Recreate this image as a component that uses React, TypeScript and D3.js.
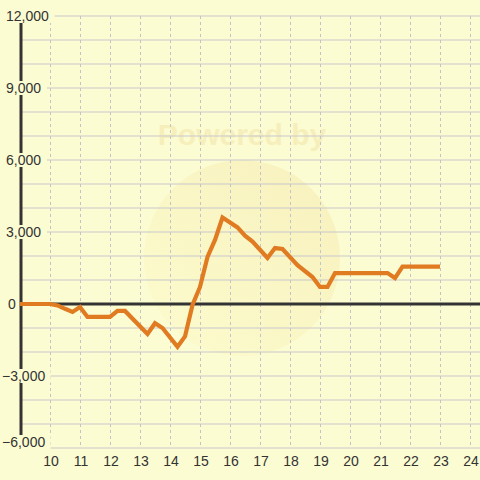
import React from "react";
import * as d3 from "d3";

const xValues = [9.0, 10.0, 10.25, 10.5, 10.75, 11.0, 11.25, 12.0, 12.25, 12.5, 13.25, 13.5, 13.75, 14.25, 14.5, 14.75, 15.0, 15.25, 15.5, 15.75, 16.25, 16.5, 16.75, 17.25, 17.5, 17.75, 18.25, 18.75, 19.0, 19.25, 19.5, 21.25, 21.5, 21.75, 23.0];
const yValues = [0, 0, -60, -200, -330, -125, -540, -540, -290, -290, -1250, -800, -1000, -1780, -1350, -40, 710, 1960, 2670, 3600, 3190, 2850, 2600, 1920, 2330, 2290, 1620, 1125, 710, 710, 1290, 1290, 1080, 1560, 1560];
const xTicks = [10, 11, 12, 13, 14, 15, 16, 17, 18, 19, 20, 21, 22, 23, 24];
const yGrid = [-6000, -5000, -4000, -3000, -2000, -1000, 0, 1000, 2000, 3000, 4000, 5000, 6000, 7000, 8000, 9000, 10000, 11000, 12000];
const yLabels = [-6000, -3000, 0, 3000, 6000, 9000, 12000];

const W = 480;
const H = 480;
const BG = "#fcfcd2";

export default function App() {
  const x = d3.scaleLinear().domain([9, 24]).range([20, 470]);
  const y = d3.scaleLinear().domain([-6000, 12000]).range([448, 16]);
  const pts: [number, number][] = xValues.map((v, i) => [v, yValues[i]]);
  const line = d3
    .line<[number, number]>()
    .x((d) => x(d[0]))
    .y((d) => y(d[1]));
  const fmt = d3.format(",");

  return (
    <svg
      width={W}
      height={H}
      style={{ position: "absolute", left: 0, top: 0, display: "block" }}
      fontFamily="Liberation Sans, Arial, sans-serif"
    >
      <defs>
        <linearGradient id="wm" x1="0" y1="1" x2="1" y2="0">
          <stop offset="0%" stopColor="#fdfbcc" />
          <stop offset="100%" stopColor="#f5ecb4" />
        </linearGradient>
      </defs>
      <rect x={0} y={0} width={W} height={H} fill={BG} />
      {/* watermark */}
      <circle cx={242} cy={258} r={98} fill="url(#wm)" opacity={0.7} />
      <text
        x={242}
        y={145}
        textAnchor="middle"
        fontSize={30}
        fontWeight="bold"
        fill="#f6efbc"
      >
        Powered by
      </text>
      {/* horizontal grid */}
      {yGrid.map((v) => (
        <line key={"h" + v} x1={20} x2={W} y1={y(v)} y2={y(v)} stroke="#c8c8cc" strokeWidth={1.2} />
      ))}
      {/* vertical grid */}
      {xTicks.map((v) => (
        <line
          key={"v" + v}
          x1={Math.round(x(v)) + 0.5}
          x2={Math.round(x(v)) + 0.5}
          y1={16}
          y2={448}
          stroke="#c4c4c8"
          strokeWidth={1}
          strokeDasharray="3,3"
        />
      ))}
      {/* y axis */}
      <line x1={21} x2={21} y1={16} y2={448} stroke="#333" strokeWidth={3} />
      {/* zero line */}
      <line x1={20} x2={W} y1={y(0)} y2={y(0)} stroke="#333" strokeWidth={3} />
      {/* y labels */}
      {yLabels.map((v) => {
        const s = fmt(v);
        const yy = v === -6000 ? y(v) - 6 : y(v);
        const w = s.length * 7.6;
        const x0 = v < 0 ? 2 : v === 0 ? 8 : 6;
        return (
          <g key={"yl" + v}>
            <rect x={x0 - 2} y={yy - 7} width={w + 5} height={14} fill={BG} />
            <text x={x0} y={yy} dy="0.36em" fontSize={14} fill="#333">
              {s}
            </text>
          </g>
        );
      })}
      {/* x labels */}
      {xTicks.map((v) => (
        <text key={"xl" + v} x={x(v) + 1} y={461} dy="0.36em" textAnchor="middle" fontSize={14} fill="#333">
          {v}
        </text>
      ))}
      {/* data line */}
      <path d={line(pts) || ""} fill="none" stroke="#e07b22" strokeWidth={4.2} strokeLinejoin="miter" />
    </svg>
  );
}
